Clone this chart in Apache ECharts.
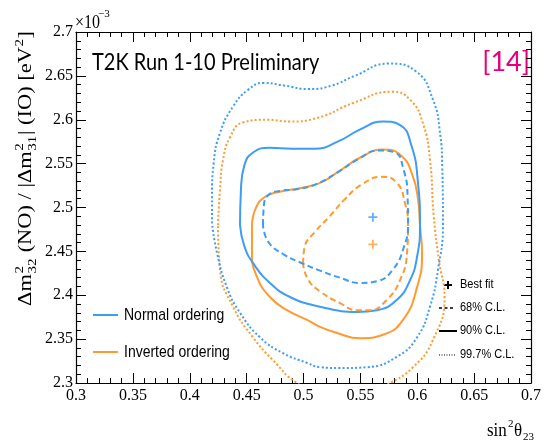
<!DOCTYPE html>
<html>
<head>
<meta charset="utf-8">
<script src="https://cdn.jsdelivr.net/npm/echarts@6/dist/echarts.min.js"></script>
<style>
html, body { margin: 0; padding: 0; background: #fff; }
#chart { width: 547px; height: 444px; }
</style>
</head>
<body>
<div id="chart"></div>
<script>
// x: sin^2(theta23), y: dm^2 in units of 1e-3 eV^2
const X_MIN = 0.3, X_MAX = 0.7, X_STEP = 0.05;
const Y_MIN = 2.3, Y_MAX = 2.7, Y_STEP = 0.05;

// Normal ordering (blue)
const noCL68 = [
  [0.4644, 2.480], [0.4652, 2.503], [0.4700, 2.515], [0.4800, 2.519], [0.4950, 2.521],
  [0.5119, 2.527], [0.5300, 2.540], [0.5480, 2.555], [0.5660, 2.565], [0.5800, 2.563],
  [0.5880, 2.543], [0.5915, 2.512], [0.5919, 2.480], [0.5880, 2.454], [0.5790, 2.430],
  [0.5646, 2.416], [0.5497, 2.414], [0.5321, 2.420], [0.5145, 2.428], [0.4996, 2.436],
  [0.4820, 2.447], [0.4690, 2.461]
];
const noCL90 = [
  [0.4442, 2.480], [0.4450, 2.520], [0.4480, 2.548], [0.4560, 2.563], [0.4700, 2.568],
  [0.4900, 2.567], [0.5100, 2.567], [0.5300, 2.575], [0.5500, 2.589], [0.5700, 2.598],
  [0.5850, 2.594], [0.5950, 2.570], [0.6005, 2.530], [0.6024, 2.480], [0.6000, 2.445],
  [0.5936, 2.417], [0.5822, 2.395], [0.5646, 2.383], [0.5470, 2.381], [0.5145, 2.387],
  [0.4881, 2.398], [0.4705, 2.414], [0.4560, 2.436], [0.4480, 2.456]
];
const noCL997 = [
  [0.4196, 2.482], [0.4196, 2.515], [0.4210, 2.550], [0.4266, 2.585], [0.4380, 2.615],
  [0.4512, 2.634], [0.4650, 2.642], [0.4830, 2.639], [0.5050, 2.635], [0.5250, 2.639],
  [0.5450, 2.650], [0.5750, 2.664], [0.5990, 2.655], [0.6138, 2.623], [0.6200, 2.585],
  [0.6220, 2.546], [0.6226, 2.480], [0.6182, 2.429], [0.6112, 2.387], [0.5998, 2.352],
  [0.5822, 2.330], [0.5558, 2.318], [0.5321, 2.317], [0.5145, 2.318], [0.5031, 2.323],
  [0.4820, 2.334], [0.4618, 2.352], [0.4442, 2.380], [0.4327, 2.409], [0.4240, 2.448]
];
const noBest = [[0.561, 2.489]];

// Inverted ordering (orange)
const ioCL68 = [
  [0.4996, 2.436], [0.5010, 2.455], [0.5100, 2.472], [0.5230, 2.490], [0.5360, 2.509],
  [0.5510, 2.526], [0.5690, 2.535], [0.5822, 2.528], [0.5892, 2.505], [0.5919, 2.480],
  [0.5910, 2.448], [0.5848, 2.417], [0.5734, 2.395], [0.5585, 2.383], [0.5470, 2.383],
  [0.5321, 2.391], [0.5150, 2.404], [0.5040, 2.418]
];
const ioCL90 = [
  [0.4547, 2.480], [0.4580, 2.499], [0.4660, 2.512], [0.4793, 2.518], [0.4969, 2.522],
  [0.5145, 2.528], [0.5320, 2.542], [0.5500, 2.557], [0.5700, 2.566], [0.5860, 2.559],
  [0.5960, 2.536], [0.6007, 2.509], [0.6024, 2.480], [0.6042, 2.448], [0.5998, 2.409],
  [0.5875, 2.372], [0.5699, 2.355], [0.5497, 2.351], [0.5295, 2.357], [0.5145, 2.364],
  [0.5031, 2.372], [0.4855, 2.383], [0.4705, 2.398], [0.4591, 2.421], [0.4547, 2.448]
];
const ioCL997 = [
  [0.4248, 2.480], [0.4266, 2.520], [0.4292, 2.554], [0.4354, 2.580], [0.4468, 2.597],
  [0.4679, 2.600], [0.4881, 2.598], [0.5120, 2.602], [0.5435, 2.619], [0.5778, 2.632],
  [0.5936, 2.623], [0.6050, 2.596], [0.6112, 2.554], [0.6145, 2.490], [0.6190, 2.440],
  [0.6240, 2.398], [0.6138, 2.349], [0.5963, 2.318], [0.5734, 2.298], [0.5497, 2.284],
  [0.5233, 2.283], [0.4943, 2.300], [0.4732, 2.326], [0.4556, 2.352], [0.4380, 2.387],
  [0.4266, 2.429]
];
const ioBest = [[0.561, 2.458]];

const BLUE = "#3c9cf6";
const ORANGE = "#ff9a30";
const SERIF = '"Liberation Serif", "DejaVu Serif", serif';
const SANS = '"Liberation Sans", Arial, sans-serif';

const DASH = [6, 3.5];
const DOT = [2, 2.2];
const PLUS = "path://M4,0h2v4h4v2h-4v4h-2v-4h-4v-2h4z";

function contour(name, pts, color, type) {
  return {
    name: name,
    type: "line",
    data: [...pts, pts[0]],
    smooth: 0.5,
    showSymbol: false,
    symbol: "none",
    clip: true,
    silent: true,
    lineStyle: { color: color, width: 2, type: type }
  };
}

function best(name, pts, color) {
  return {
    name: name,
    type: "scatter",
    data: pts,
    symbol: PLUS,
    symbolSize: 9,
    silent: true,
    itemStyle: { color: color }
  };
}

const fmt = v => String(parseFloat(v.toFixed(2)));

// y title built from pieces so sub/superscripts can be stacked
const meas = document.createElement("canvas").getContext("2d");
function tw(text, size) {
  meas.font = size + "px " + SERIF;
  return meas.measureText(text).width;
}
function yTitle() {
  const big = 18, small = 12;
  const parts = [
    { t: "\u0394m" }, { sup: "2", sub: "32" },
    { t: " (NO) / |\u0394m" }, { sup: "2", sub: "31" },
    { t: "| (IO) [eV" }, { sup: "2" }, { t: "]" }
  ];
  const kids = [];
  let cx = 0;
  parts.forEach(p => {
    if (p.t) {
      kids.push({ type: "text", style: { text: p.t, x: cx, y: 0, font: big + "px " + SERIF, fill: "#000", verticalAlign: "middle" } });
      cx += tw(p.t, big);
    } else {
      let w = 0;
      if (p.sup) {
        kids.push({ type: "text", style: { text: p.sup, x: cx + 0.5, y: -6.5, font: small + "px " + SERIF, fill: "#000", verticalAlign: "middle" } });
        w = Math.max(w, tw(p.sup, small));
      }
      if (p.sub) {
        kids.push({ type: "text", style: { text: p.sub, x: cx + 0.5, y: 6.5, font: small + "px " + SERIF, fill: "#000", verticalAlign: "middle" } });
        w = Math.max(w, tw(p.sup && p.sub ? p.sub : p.sup, small));
      }
      cx += w + 1;
    }
  });
  // text is stretched along its length like the source image
  const scale = 275 / cx;
  return { type: "group", x: 26, y: 306, rotation: Math.PI / 2, scaleX: scale, children: kids };
}

function label(text, x, y, font, extra) {
  return Object.assign({
    type: "text", x: x, y: y,
    style: { text: text, x: 0, y: 0, font: font, fill: "#000", verticalAlign: "middle" }
  }, extra || {});
}

const chart = echarts.init(document.getElementById("chart"), null, { renderer: "canvas" });

const axisCommon = {
  type: "value",
  splitLine: { show: false },
  axisLine: { show: true, onZero: false, lineStyle: { color: "#000", width: 1.2 } },
  axisTick: { show: true, inside: true, length: 10, lineStyle: { color: "#000" } },
  minorTick: { show: true, splitNumber: 5, length: 5, lineStyle: { color: "#000" } }
};

chart.setOption({
  animation: false,
  backgroundColor: "#fff",
  grid: { left: 76, right: 16, top: 32, bottom: 61 },
  xAxis: [
    Object.assign({}, axisCommon, {
      min: X_MIN, max: X_MAX, interval: X_STEP, position: "bottom",
      axisLabel: { color: "#000", fontFamily: SERIF, fontSize: 16, margin: 5, formatter: fmt, showMinLabel: true, showMaxLabel: true }
    }),
    Object.assign({}, axisCommon, {
      min: X_MIN, max: X_MAX, interval: X_STEP, position: "top",
      axisLabel: { show: false }
    })
  ],
  yAxis: [
    Object.assign({}, axisCommon, {
      min: Y_MIN, max: Y_MAX, interval: Y_STEP, position: "left",
      axisLabel: { color: "#000", fontFamily: SERIF, fontSize: 16, margin: 3, formatter: fmt, showMinLabel: true, showMaxLabel: true }
    }),
    Object.assign({}, axisCommon, {
      min: Y_MIN, max: Y_MAX, interval: Y_STEP, position: "right",
      axisLabel: { show: false }
    })
  ],
  series: [
    contour("IO 99.7% C.L.", ioCL997, ORANGE, DOT),
    contour("NO 99.7% C.L.", noCL997, BLUE, DOT),
    contour("IO 90% C.L.", ioCL90, ORANGE, "solid"),
    contour("NO 90% C.L.", noCL90, BLUE, "solid"),
    contour("IO 68% C.L.", ioCL68, ORANGE, DASH),
    contour("NO 68% C.L.", noCL68, BLUE, DASH),
    best("NO best fit", noBest, BLUE),
    best("IO best fit", ioBest, ORANGE)
  ],
  graphic: [
    yTitle(),
    // x10^-3 multiplier
    label("\u00d710", 75, 23, "16px " + SERIF, { scaleY: 1.15 }),
    label("\u22123", 98, 14, "11px " + SERIF),
    // x title
    label("sin", 487, 431, "17px " + SERIF, { scaleY: 1.15 }),
    label("2", 508, 424, "11px " + SERIF),
    label("\u03b8", 514, 431, "17px " + SERIF, { scaleY: 1.15 }),
    label("23", 523, 437, "11px " + SERIF),
    // labels
    label("T2K Run 1-10 Preliminary", 92, 62, "20px Lato, sans-serif", { scaleY: 1.18 }),
    { type: "text", x: 530, y: 62, style: { text: "[14]", x: 0, y: 0, font: "27px Lato, sans-serif", fill: "#e6007e", align: "right", verticalAlign: "middle" } },
    // ordering legend
    { type: "line", shape: { x1: 93, y1: 315, x2: 118, y2: 315 }, style: { stroke: BLUE, lineWidth: 2 } },
    label("Normal ordering", 124, 315, "14px " + SANS, { scaleY: 1.2 }),
    { type: "line", shape: { x1: 93, y1: 352, x2: 118, y2: 352 }, style: { stroke: ORANGE, lineWidth: 2 } },
    label("Inverted ordering", 124, 352, "14px " + SANS, { scaleY: 1.2 }),
    // C.L. legend
    { type: "rect", shape: { x: 444, y: 284, width: 8, height: 2 }, style: { fill: "#000" } },
    { type: "rect", shape: { x: 447, y: 281, width: 2, height: 8 }, style: { fill: "#000" } },
    label("Best fit", 460, 285, "11px " + SANS, { scaleY: 1.1 }),
    { type: "line", shape: { x1: 439, y1: 308, x2: 454, y2: 308 }, style: { stroke: "#000", lineWidth: 1.5, lineDash: [3, 2.5] } },
    label("68% C.L.", 460, 308, "11px " + SANS, { scaleY: 1.1 }),
    { type: "line", shape: { x1: 439, y1: 331, x2: 457, y2: 331 }, style: { stroke: "#000", lineWidth: 2 } },
    label("90% C.L.", 460, 331, "11px " + SANS, { scaleY: 1.1 }),
    { type: "line", shape: { x1: 439, y1: 355, x2: 456, y2: 355 }, style: { stroke: "#000", lineWidth: 1.2, lineDash: [1, 1.5] } },
    label("99.7% C.L.", 460, 355, "11px " + SANS, { scaleY: 1.1 })
  ]
});

window.addEventListener("resize", () => chart.resize());
</script>
</body>
</html>
